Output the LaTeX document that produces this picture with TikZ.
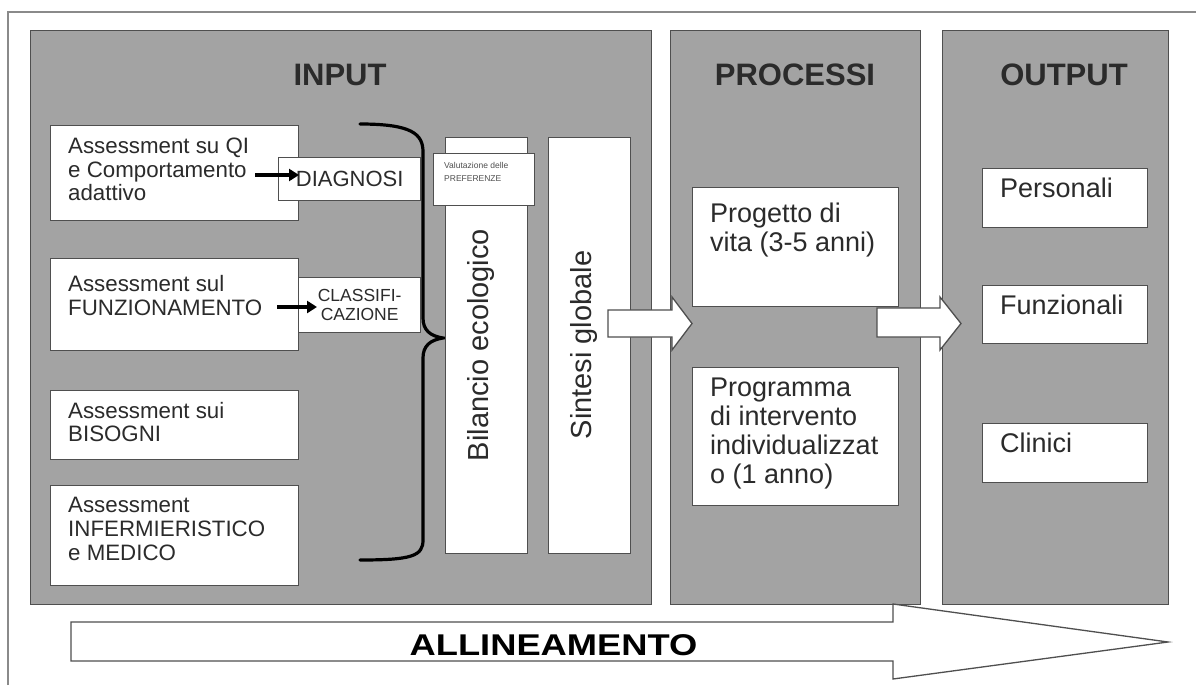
\documentclass[tikz,border=0pt]{standalone}
\usepackage{fontspec}
\setmainfont{Liberation Sans}
\usetikzlibrary{arrows.meta}
\definecolor{panel}{HTML}{A3A3A3}
\definecolor{edge}{HTML}{4F4F4F}
\definecolor{ink}{HTML}{2B2B2B}
\definecolor{frame}{HTML}{8A8A8A}
\begin{document}
\begin{tikzpicture}[x=1pt,y=-1pt,
  panelbox/.style={draw=edge, fill=panel, line width=1.3pt, anchor=north west, inner sep=0},
  wbox/.style={draw=edge, fill=white, line width=1.3pt, anchor=north west, inner sep=0},
  title/.style={font=\fontsize{31}{34}\selectfont\bfseries, text=ink},
  lbl/.style={anchor=north west, inner sep=0, align=left, text=ink, font=\fontsize{22.3}{23.5}\selectfont},
  blbl/.style={anchor=north west, inner sep=0, align=left, text=ink, font=\fontsize{27}{29}\selectfont},
  vtext/.style={rotate=90, text=ink, font=\fontsize{29}{32}\selectfont},
  smallarrow/.style={-{Triangle[length=10pt,width=12pt]}, line width=3.2pt, black},
  bigarrow/.style={draw=edge, fill=white, line width=1.3pt, line join=miter},
]
\useasboundingbox (0,0) rectangle (1196,685);
% outer frame
\draw[frame, line width=1.5pt] (8,685) -- (8,12) -- (1196,12);

% panels
\node[panelbox, minimum width=621, minimum height=574] (pin) at (30,30) {};
\node[panelbox, minimum width=250, minimum height=574] (pproc) at (670,30) {};
\node[panelbox, minimum width=226, minimum height=574] (pout) at (942,30) {};
\node[title] (tin) at (340,75) {INPUT};
\node[title] (tproc) at (795,75) {PROCESSI};
\node[title] (tout) at (1064,75) {OUTPUT};

% left assessment boxes
\node[wbox, minimum width=248, minimum height=95] (a1) at (50,125) {};
\node[lbl] (a1t) at (68,138) {Assessment su QI\\e Comportamento\\adattivo};
\node[wbox, minimum width=248, minimum height=92] (a2) at (50,258) {};
\node[lbl] (a2t) at (68,275.5) {Assessment sul\\FUNZIONAMENTO};
\node[wbox, minimum width=248, minimum height=69] (a3) at (50,390) {};
\node[lbl] (a3t) at (68,402) {Assessment sui\\BISOGNI};
\node[wbox, minimum width=248, minimum height=100] (a4) at (50,485) {};
\node[lbl, font=\fontsize{22.3}{24}\selectfont] (a4t) at (68,497) {Assessment\\INFERMIERISTICO\\e MEDICO};

% diagnosi / classificazione
\node[wbox, minimum width=142, minimum height=43, font=\fontsize{22}{23}\selectfont, text=ink] (diag) at (278,157) {DIAGNOSI};
\node[wbox, minimum width=122, minimum height=55, align=center, font=\fontsize{17.5}{19.5}\selectfont, text=ink] (clas) at (298,277) {CLASSIFI-\\CAZIONE};
\coordinate (d0) at (255,175);
\coordinate (d1) at (299,175);
\draw[smallarrow] (d0) -- (d1);
\coordinate (c0) at (277,307);
\coordinate (c1) at (317,307);
\draw[smallarrow] (c0) -- (c1);

% brace
\draw[black, line width=3.2pt, line cap=round]
  (360,124) .. controls (412,124) and (423,134) .. (423,152)
  -- (423,318) .. controls (423,330) and (430,336) .. (443,338)
  .. controls (430,340) and (423,346) .. (423,358)
  -- (423,540) .. controls (423,556) and (412,560) .. (360,560);

% bilancio / sintesi
\node[wbox, minimum width=82, minimum height=416] (bil) at (445,137) {};
\node[vtext] (bilt) at (481,345) {Bilancio ecologico};
\node[wbox, minimum width=101, minimum height=52] (val) at (433,153) {};
\node[anchor=north west, inner sep=0, align=left, text=edge, font=\fontsize{8.5}{13}\selectfont] (valt) at (444,162) {Valutazione delle\\PREFERENZE};
\node[wbox, minimum width=82, minimum height=416] (sin) at (548,137) {};
\node[vtext] (sint) at (584,345) {Sintesi globale};

% block arrow 1
\draw[bigarrow] (608,310) -- (672,310) -- (672,297) -- (692,323.5) -- (672,350) -- (672,337) -- (608,337) -- cycle;

% processi boxes
\node[wbox, minimum width=206, minimum height=119] (prog) at (692,187) {};
\node[blbl] (progt) at (710,202.5) {Progetto di\\vita (3-5 anni)};
\node[wbox, minimum width=206, minimum height=138] (pint) at (692,367) {};
\node[blbl] (pintt) at (710,377.5) {Programma\\di intervento\\individualizzat\\o (1 anno)};

% block arrow 2
\draw[bigarrow] (877,308) -- (940,308) -- (940,297) -- (961,323.5) -- (940,350) -- (940,337) -- (877,337) -- cycle;

% output boxes
\node[wbox, minimum width=165, minimum height=59] (o1) at (982,168) {};
\node[blbl, anchor=base west] (o1t) at (1000,197) {Personali};
\node[wbox, minimum width=165, minimum height=58] (o2) at (982,285) {};
\node[blbl, anchor=base west] (o2t) at (1000,314) {Funzionali};
\node[wbox, minimum width=165, minimum height=59] (o3) at (982,423) {};
\node[blbl, anchor=base west] (o3t) at (1000,452) {Clinici};

% allineamento arrow
\draw[bigarrow] (71,622) -- (893,622) -- (893,604) -- (1168,642) -- (893,679) -- (893,661) -- (71,661) -- cycle;
\node[font=\fontsize{30}{32}\selectfont\bfseries, text=black, anchor=base] (all) at (553.5,655) {\scalebox{1.21}[1]{ALLINEAMENTO}};
\end{tikzpicture}
\end{document}
